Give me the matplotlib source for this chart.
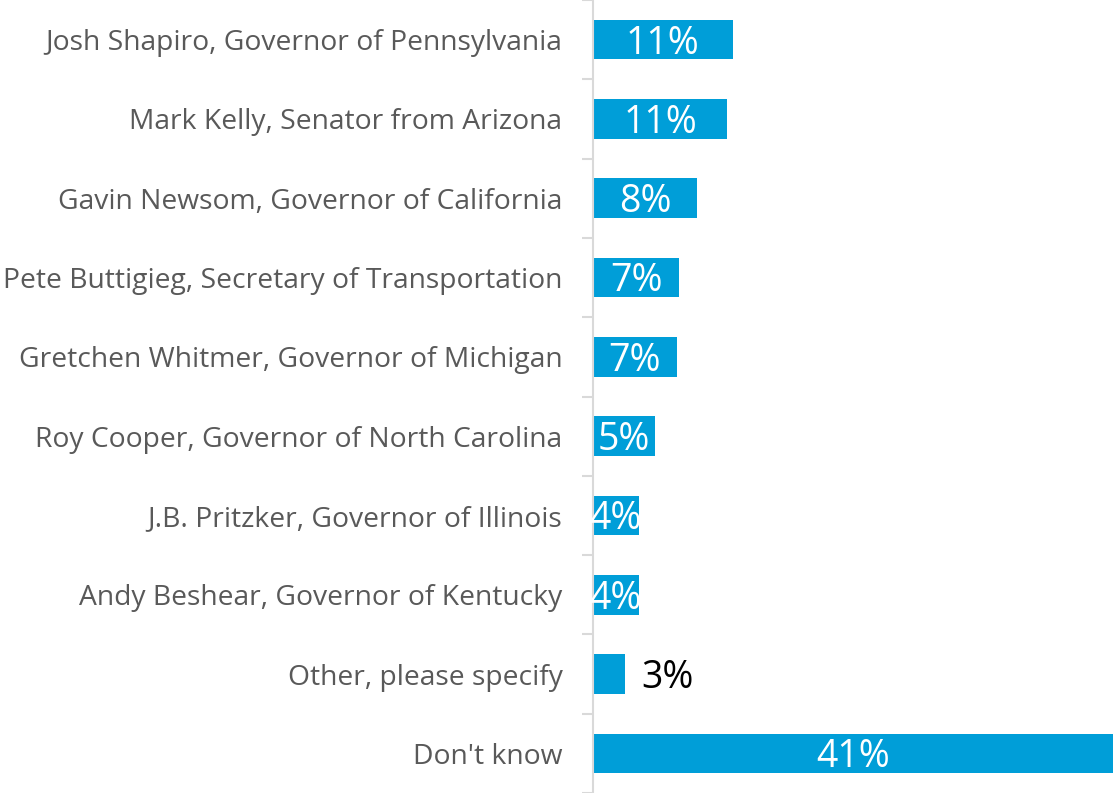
import matplotlib
matplotlib.use("Agg")
import matplotlib.pyplot as plt
import numpy as np

plt.rcParams["font.family"] = ["Open Sans", "DejaVu Sans"]

names = [
    "Josh Shapiro, Governor of Pennsylvania",
    "Mark Kelly, Senator from Arizona",
    "Gavin Newsom, Governor of California",
    "Pete Buttigieg, Secretary of Transportation",
    "Gretchen Whitmer, Governor of Michigan",
    "Roy Cooper, Governor of North Carolina",
    "J.B. Pritzker, Governor of Illinois",
    "Andy Beshear, Governor of Kentucky",
    "Other, please specify",
    "Don't know",
]
shares = [11.0, 10.6, 8.2, 6.8, 6.6, 4.9, 3.6, 3.6, 2.5, 41.0]

bar_color = "#009ED8"
text_gray = "#595959"
axis_gray = "#D9D9D9"

fig = plt.figure(figsize=(11.13, 7.93), dpi=100)
ax = fig.add_axes([593 / 1113, 0, 1 - 593 / 1113, 1])

y = np.arange(len(names))
bars = ax.barh(y, shares, height=0.5, color=bar_color)

ax.set_xlim(0, 41)
ax.set_ylim(len(names) - 0.5, -0.5)

for s in ["top", "right", "bottom"]:
    ax.spines[s].set_visible(False)
ax.spines["left"].set_color(axis_gray)
ax.spines["left"].set_linewidth(1.5)

ax.set_xticks([])
ax.set_yticks(y)
ax.set_yticklabels(names, fontsize=20.3, color=text_gray)
ax.tick_params(axis="y", which="major", length=0, pad=22)
ax.set_yticks(np.arange(len(names) + 1) - 0.5, minor=True)
ax.tick_params(axis="y", which="minor", length=8, width=1.5, color=axis_gray)

# percentages: white inside the bar, black beside the short one
for b, v in zip(bars, shares):
    label = f"{int(v + 0.5)}%"
    cy = b.get_y() + b.get_height() / 2
    if v < 3:
        ax.annotate(label, (v, cy), xytext=(12, -10), textcoords="offset points",
                    ha="left", va="baseline", fontsize=27, color="black")
    else:
        ax.annotate(label, (v / 2, cy), xytext=(0, -10), textcoords="offset points",
                    ha="center", va="baseline", fontsize=27, color="white")

fig.savefig("out.png", dpi=100)
